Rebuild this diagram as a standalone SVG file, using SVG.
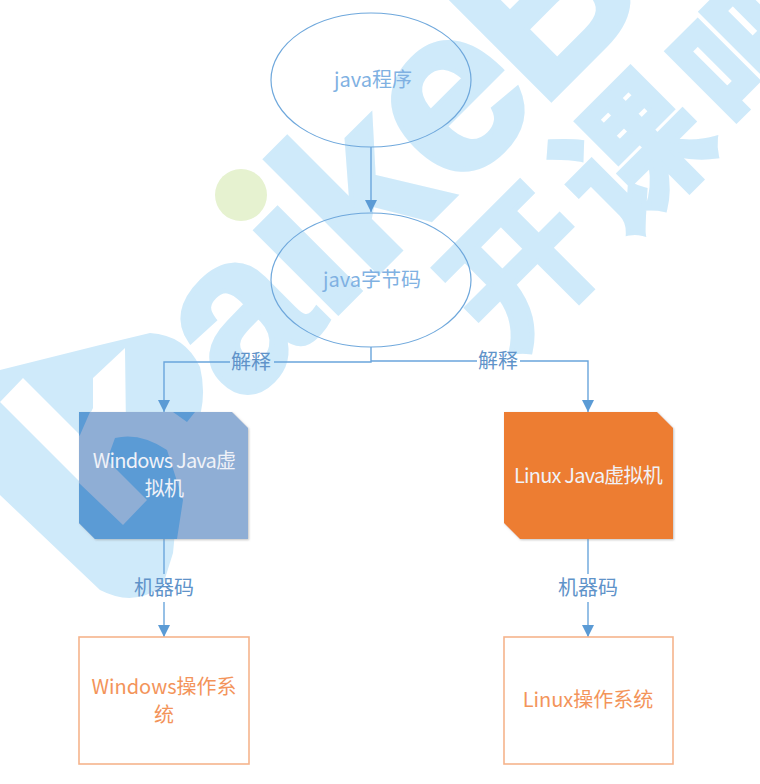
<svg xmlns="http://www.w3.org/2000/svg" width="760" height="784" viewBox="0 0 760 784">
<style>
text{font-family:"Noto Sans CJK SC","Noto Sans",sans-serif;font-size:20px;text-anchor:middle}
.wl{font-family:"Liberation Sans",sans-serif;font-weight:700;font-size:220px;fill:#cfeafa;stroke:#cfeafa;stroke-width:5px;text-anchor:start}
.wc{font-family:"Noto Sans CJK SC",sans-serif;font-weight:700;font-size:144px;fill:#cfeafa;stroke:#cfeafa;stroke-width:5px}
.el{fill:none;stroke:#6fa8dc;stroke-width:1.2}
.et{fill:#7fb1e2}
.c{fill:none;stroke:#6aa5dc;stroke-width:1.4}
.lb{fill:#5f93c9}
.os{fill:#fff;fill-opacity:0;stroke:#f6b48c;stroke-width:1.6}
.ot{fill:#f3945a}
.vt{fill:#f0f2f8;letter-spacing:-.8px}
</style>
<defs>
<marker id="a" viewBox="0 0 12 12" refX="12" refY="6" markerWidth="12" markerHeight="12" markerUnits="userSpaceOnUse" orient="auto"><path d="M0 0L12 6L0 12Z" fill="#5b9bd5"/></marker>
<filter id="s" x="-5%" y="-5%" width="110%" height="110%"><feDropShadow dx="1" dy="1" stdDeviation="1" flood-color="#888" flood-opacity=".5"/></filter>
</defs>
<rect width="760" height="784" fill="#fff"/>
<g id="watermark">
<path fill="#cfeafa" fill-rule="evenodd" d="M0 370L100 345L150 333Q185 335 200 367Q208 400 195 430L180 480L173 553L163 585Q135 608 100 590L0 495ZM0 402L123 525L147 500L107 460L115 438L126 430L125 348L93 378L93 408L80 435L23 378L0 402Z"/>
<g transform="rotate(-45)">
<text class="wl" x="-118" y="460">a</text>
<text class="wl" x="3" y="460">i</text>
<text class="wl" x="60" y="460">k</text>
<text class="wl" style="font-size:235px" x="182" y="460">e</text>
<text class="wl" x="305" y="460">B</text>
<text class="wl" x="470" y="460">a</text>
<text class="wc" x="178" y="610">开</text>
<text class="wc" x="338" y="610">课</text>
<text class="wc" x="498" y="618">吧</text>
</g>
<circle cx="241" cy="195" r="26" fill="#e6f2d0"/>
</g>
<g id="connectors">
<path class="c" marker-end="url(#a)" d="M371 147V212"/>
<path class="c" d="M371 347V362H274"/>
<path class="c" marker-end="url(#a)" d="M230 362H164V412"/>
<path class="c" d="M371 361H477"/>
<path class="c" marker-end="url(#a)" d="M520 361H588V412"/>
<path class="c" d="M164 539V574"/>
<path class="c" marker-end="url(#a)" d="M164 602V637"/>
<path class="c" d="M588 539V574"/>
<path class="c" marker-end="url(#a)" d="M588 602V637"/>
<text class="lb" x="251" y="369">解释</text>
<text class="lb" x="498" y="368">解释</text>
<text class="lb" x="164" y="595">机器码</text>
<text class="lb" x="588" y="595">机器码</text>
</g>
<g id="java-program"><ellipse class="el" cx="371" cy="80" rx="100" ry="67"/><text class="et" x="373" y="87">java程序</text></g>
<g id="java-bytecode"><ellipse class="el" cx="371" cy="280" rx="100" ry="67"/><text class="et" x="372" y="287">java字节码</text></g>
<g id="windows-jvm">
<path filter="url(#s)" fill="#8faed5" d="M79 412H232L248 428V539H95L79 523Z"/>
<path fill="#5b9bd5" d="M79 412H90L80 435L79 436ZM173 412H195L187 422ZM79 483L123 525L147 500L107 460L115 438Q140 432 167 450L183 500L177 539H95L79 523Z"/>
<text class="vt" x="164" y="468">Windows Java虚</text>
<text class="vt" x="164" y="496">拟机</text>
</g>
<g id="linux-jvm">
<path filter="url(#s)" fill="#ed7d31" d="M504 412H657L673 428V539H520L504 523Z"/>
<text class="vt" x="588" y="483">Linux Java虚拟机</text>
</g>
<g id="windows-os">
<rect class="os" x="79" y="637" width="170" height="127"/>
<text class="ot" x="164" y="694">Windows操作系</text>
<text class="ot" x="164" y="722">统</text>
</g>
<g id="linux-os">
<rect class="os" x="504" y="637" width="169" height="127"/>
<text class="ot" x="588" y="707">Linux操作系统</text>
</g>
</svg>
